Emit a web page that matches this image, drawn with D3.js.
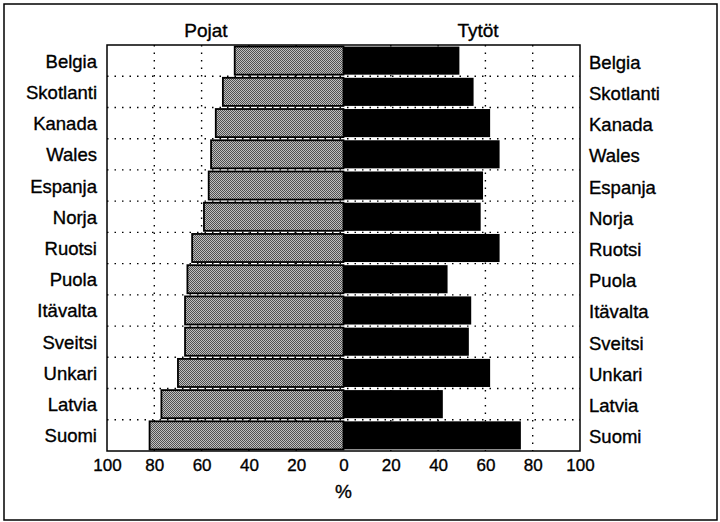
<!DOCTYPE html>
<html><head><meta charset="utf-8">
<script src="https://cdn.jsdelivr.net/npm/d3@7"></script>
<style>
html,body{margin:0;padding:0;background:#fff;}
svg{display:block;}
text{font-family:"Liberation Sans",Arial,Helvetica,sans-serif;fill:#000;stroke:#000;stroke-width:0.35px;}
</style></head>
<body>
<svg id="chart" width="720" height="522"></svg>
<script>
const categories = ["Belgia","Skotlanti","Kanada","Wales","Espanja","Norja","Ruotsi","Puola","Itävalta","Sveitsi","Unkari","Latvia","Suomi"];
const boys  = [46,51,54,56,57,59,64,66,67,67,70,77,82];
const girls = [49,55,62,66,59,58,66,44,54,53,62,42,75];
const tickValues = [-100,-80,-60,-40,-20,0,20,40,60,80,100];
const gridValues = [-80,-60,-40,-20,20,40,60,80];
const seriesTitles = ["Pojat","Tytöt"];
const axisTitle = "%";

const svg = d3.select("#chart");
const pL = 107, pR = 580, pT = 45, pB = 451;

const x = d3.scaleLinear().domain([-100,100]).range([pL,pR]);
const y = d3.scaleBand().domain(categories).range([pT,pB]).paddingInner(0.1).paddingOuter(0.05);

// outer frame
svg.append("rect").attr("x",4).attr("y",4).attr("width",713).attr("height",516)
  .attr("fill","none").attr("stroke","#000").attr("stroke-width",1.5);

// pattern for boys
const defs = svg.append("defs");
const pat = defs.append("pattern").attr("id","stip").attr("width",2).attr("height",2).attr("patternUnits","userSpaceOnUse");
pat.append("rect").attr("width",2).attr("height",2).attr("fill","#c0c0c0");
pat.append("rect").attr("x",0).attr("y",0).attr("width",1).attr("height",1).attr("fill","#505050");
pat.append("rect").attr("x",1).attr("y",1).attr("width",1).attr("height",1).attr("fill","#505050");

// vertical dotted grid
svg.append("g").selectAll("line").data(gridValues).join("line")
  .attr("x1",d=>x(d)).attr("x2",d=>x(d)).attr("y1",pT).attr("y2",pB)
  .attr("stroke","#000").attr("stroke-width",1.4).attr("stroke-dasharray","1.5,6");

// horizontal dotted row separators
const seps = categories.slice(1);
svg.append("g").selectAll("line").data(seps).join("line")
  .attr("x1",pL).attr("x2",pR)
  .attr("y1",d=>y(d)-y.step()*y.paddingInner()/2).attr("y2",d=>y(d)-y.step()*y.paddingInner()/2)
  .attr("stroke","#000").attr("stroke-width",1.4).attr("stroke-dasharray","1.5,6");

// boys bars
svg.append("g").selectAll("rect").data(categories).join("rect")
  .attr("x",(d,i)=>x(-boys[i])).attr("y",d=>y(d))
  .attr("width",(d,i)=>x(0)-x(-boys[i])).attr("height",y.bandwidth())
  .attr("fill","url(#stip)").attr("stroke","#000").attr("stroke-width",1.8);

// girls bars
svg.append("g").selectAll("rect").data(categories).join("rect")
  .attr("x",x(0)).attr("y",d=>y(d))
  .attr("width",(d,i)=>x(girls[i])-x(0)).attr("height",y.bandwidth())
  .attr("fill","#000");

// plot frame
svg.append("rect").attr("x",pL).attr("y",pT).attr("width",pR-pL).attr("height",pB-pT)
  .attr("fill","none").attr("stroke","#000").attr("stroke-width",1.5);

// category labels
svg.append("g").selectAll("text").data(categories).join("text")
  .attr("x",97).attr("y",d=>y(d)+y.bandwidth()/2+7)
  .attr("text-anchor","end").attr("font-size",18.5).text(d=>d);
svg.append("g").selectAll("text").data(categories).join("text")
  .attr("x",589).attr("y",d=>y(d)+y.bandwidth()/2+8)
  .attr("text-anchor","start").attr("font-size",18.5).text(d=>d);

// titles
svg.append("text").attr("x",206).attr("y",37).attr("text-anchor","middle").attr("font-size",19).text(seriesTitles[0]);
svg.append("text").attr("x",478).attr("y",37).attr("text-anchor","middle").attr("font-size",19).text(seriesTitles[1]);

// x axis
const axis = d3.axisBottom(x).tickValues(tickValues).tickFormat(d=>Math.abs(d)).tickSize(0).tickPadding(0);
const gAx = svg.append("g").attr("transform",`translate(0,${pB+8})`).call(axis);
gAx.select(".domain").remove();
gAx.selectAll("text").attr("font-size",17).attr("dy","0.71em")
  .style("font-family","'Liberation Sans',Arial,sans-serif").attr("fill","#000");

svg.append("text").attr("x",x(0)).attr("y",498).attr("text-anchor","middle").attr("font-size",19).text(axisTitle);
</script>
</body></html>
